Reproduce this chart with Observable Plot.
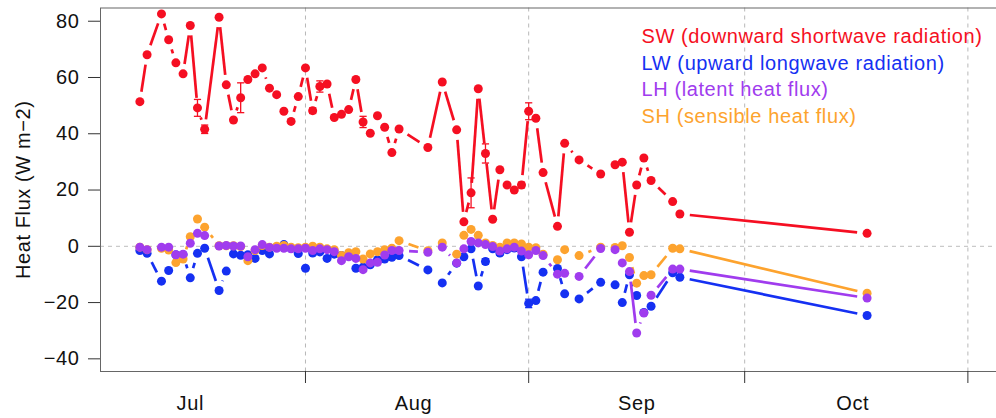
<!DOCTYPE html>
<html>
<head>
<meta charset="utf-8">
<script src="https://cdn.jsdelivr.net/npm/d3@7"></script>
<script src="https://cdn.jsdelivr.net/npm/@observablehq/plot@0.6"></script>
<style>
  body { margin: 0; background: #fff; overflow: hidden; }
  #chart { width: 996px; height: 418px; overflow: hidden; }
  #chart svg { max-width: none !important; }
  #chart svg text { letter-spacing: 0.6px; }
</style>
</head>
<body>
<div id="chart"></div>
<script>
// sampling days (same for all four fluxes)
const dates = [
  "2019-07-09","2019-07-10","2019-07-12","2019-07-13","2019-07-14","2019-07-15","2019-07-16","2019-07-17","2019-07-18","2019-07-20","2019-07-21",
  "2019-07-22","2019-07-23","2019-07-24","2019-07-25","2019-07-26","2019-07-27","2019-07-28","2019-07-29","2019-07-30","2019-07-31",
  "2019-08-01","2019-08-02","2019-08-03","2019-08-04","2019-08-05","2019-08-06","2019-08-07","2019-08-08","2019-08-09","2019-08-10",
  "2019-08-11","2019-08-12","2019-08-13","2019-08-14","2019-08-18","2019-08-20","2019-08-22","2019-08-23","2019-08-24","2019-08-25",
  "2019-08-26","2019-08-27","2019-08-28","2019-08-29","2019-08-30","2019-08-31",
  "2019-09-01","2019-09-02","2019-09-03","2019-09-05","2019-09-06","2019-09-08","2019-09-11","2019-09-13","2019-09-14","2019-09-15",
  "2019-09-16","2019-09-17","2019-09-18","2019-09-21","2019-09-22","2019-10-18"
];

const sw = [
  51.4, 68.1, 82.6, 73.4, 65.2, 61.3, 78.5, 49.2, 41.6, 81.4, 57.4, 44.9, 52.8, 59.3, 61.3, 63.4, 56.2, 53.9, 48.0, 44.4, 53.2,
  63.4, 48.2, 56.8, 57.7, 45.8, 46.9, 48.6, 59.3, 44.2, 40.2, 46.4, 42.3, 33.3, 41.7, 35.1, 58.4, 41.4, 8.7, 19.0, 56.0, 33.0, 9.6, 27.2, 21.8, 20.0, 21.8,
  48.0, 45.5, 26.2, 7.1, 36.6, 30.7, 25.7, 29.0, 29.9, 5.0, 21.8, 31.4, 23.4, 15.9, 11.5, 4.6
];
const lw = [
  -1.5, -2.5, -12.4, -8.6, -3.0, -3.0, -11.2, -2.5, -0.7, -15.7, -8.8, -2.7, -3.2, -3.0, -4.3, -1.5, -2.7, -0.3, 0.6, -0.8, -2.6,
  -7.8, -2.4, -2.0, -4.3, -2.8, -3.3, -3.3, -7.8, -7.4, -6.6, -4.8, -4.5, -3.9, -3.3, -8.4, -13.0, -6.0, -3.7, -0.9, -14.1, -5.4, -0.9, -2.4, -1.2, -0.6, -3.7,
  -20.3, -19.3, -9.2, -7.9, -16.9, -18.7, -12.8, -13.7, -20.0, -10.1, -17.5, -23.5, -21.3, -9.4, -11.0, -24.6
];
const sh = [
  -0.3, -1.2, -0.7, -1.3, -5.8, -4.5, 3.4, 9.7, 6.8, 0.2, 0.2, 0.2, -0.1, -5.1, -1.5, 0.3, -0.3, 0.0, 0.3, -0.3, -0.5,
  -0.3, 0.0, -0.3, -0.9, -1.2, -3.3, -2.3, -1.9, -4.5, -2.7, -1.9, -1.2, -0.7, 2.0, -1.6, 1.2, -2.8, 3.9, 6.0, 3.9, 1.2, 0.3, -0.3, 1.2, 1.2, 0.8,
  -0.3, -0.5, -2.8, -4.8, -1.2, -3.3, -0.3, -0.4, 0.2, -4.0, -13.1, -10.4, -10.1, -0.7, -0.9, -16.7
];
const lh = [
  -0.3, -1.2, -0.3, -0.3, -3.0, -2.8, 1.1, 4.6, 3.8, 0.1, 0.3, 0.1, 0.1, -3.7, -1.2, 0.6, -0.4, -0.7, -0.7, -0.9, -0.9,
  -0.7, -1.5, -0.9, -1.2, -1.9, -5.1, -3.7, -4.3, -8.3, -5.9, -5.7, -3.1, -1.5, -1.5, -2.1, -0.3, -5.9, -0.9, 1.7, 1.2, 0.6, -0.1, -1.7, -0.9, -0.3, -1.7,
  -3.0, -1.5, -3.3, -9.9, -9.6, -10.7, -0.8, -1.2, -5.9, -9.0, -30.8, -23.7, -17.4, -8.1, -8.1, -18.4
];

// error bars (half widths)
const swErrDates = ["2019-07-17","2019-07-18","2019-07-23","2019-08-02","2019-08-03","2019-08-09","2019-08-24","2019-08-26","2019-08-31","2019-09-01"];
const swErr = [3.0, 1.5, 5.3, 1.0, 2.0, 2.0, 5.3, 3.4, 1.0, 3.0];
const lwErrDates = ["2019-08-26","2019-09-01"];
const lwErr = [1.0, 1.5];

const labels = ["SW (downward shortwave radiation)", "LW (upward longwave radiation)", "LH (latent heat flux)", "SH (sensible heat flux)"];
const colors = ["#f50f22", "#1530f2", "#a03cee", "#fda32e"];

const yTicks = [-40, -20, 0, 20, 40, 60, 80];
const monthStarts = ["2019-08-01", "2019-09-01", "2019-10-01", "2019-11-01"].map(d => new Date(d));
const monthMids = ["2019-07-16", "2019-08-16", "2019-09-16", "2019-10-16"].map(d => new Date(d));

const days = dates.map(d => new Date(d));

// drawing order: SW, LW, SH, LH (latent on top)
const series = [
  {values: sw, color: colors[0], errDates: swErrDates, errs: swErr},
  {values: lw, color: colors[1], errDates: lwErrDates, errs: lwErr},
  {values: sh, color: colors[3], errDates: [], errs: []},
  {values: lh, color: colors[2], errDates: [], errs: []}
];

const capSymbol = {
  draw(context, size) {
    const r = Math.sqrt(size / Math.PI);
    context.moveTo(-r, 0);
    context.lineTo(r, 0);
  }
};

const marks = [
  Plot.gridX(monthStarts, {stroke: "#b8b8b8", strokeOpacity: 1, strokeDasharray: "4,4"}),
  Plot.ruleY([0], {stroke: "#bdbdbd", strokeDasharray: "4,4"})
];

for (const s of series) {
  const pts = days.map((d, i) => ({date: d, v: s.values[i]}));
  const segs = d3.pairs(pts).map(([a, b]) => ({x1: a.date, y1: a.v, x2: b.date, y2: b.v}));
  const errs = s.errDates.map((d, i) => {
    const k = dates.indexOf(d);
    return {date: days[k], lo: s.values[k] - s.errs[i], hi: s.values[k] + s.errs[i]};
  });
  // type "b": segments that stop short of the points
  marks.push(Plot.arrow(segs, {
    x1: "x1", y1: "y1", x2: "x2", y2: "y2",
    bend: 0, headLength: 0, insetStart: 10, insetEnd: 10,
    stroke: s.color, strokeWidth: 2.7, strokeLinecap: "butt"
  }));
  if (errs.length) {
    marks.push(Plot.link(errs, {x1: "date", x2: "date", y1: "lo", y2: "hi", stroke: s.color, strokeWidth: 1.3}));
    marks.push(Plot.dot(errs, {x: "date", y: "lo", r: 3.6, symbol: capSymbol, stroke: s.color, strokeWidth: 1.3, fill: "none"}));
    marks.push(Plot.dot(errs, {x: "date", y: "hi", r: 3.6, symbol: capSymbol, stroke: s.color, strokeWidth: 1.3, fill: "none"}));
  }
  marks.push(Plot.dot(pts, {x: "date", y: "v", r: 4.5, fill: s.color, stroke: "none"}));
}

marks.push(
  Plot.frame({stroke: "#666"}),
  Plot.axisY({ticks: yTicks, tickSize: 12, tickPadding: 9, label: null, stroke: "#333", fill: "#111"}),
  Plot.axisX({ticks: monthStarts, tickSize: 12, tickFormat: () => "", label: null, stroke: "#333"}),
  Plot.axisX({ticks: monthMids, tickSize: 0, tickPadding: 24, tickFormat: "%b", label: null, fill: "#111"}),
  Plot.text(["Heat Flux (W m\u22122)"], {frameAnchor: "left", dx: -77, rotate: -90, textAnchor: "middle", lineAnchor: "middle", fill: "#111"})
);

labels.forEach((t, i) => {
  marks.push(Plot.text([t], {
    frameAnchor: "top-left", dx: 541, dy: 35.2 + 26.6 * i,
    textAnchor: "start", lineAnchor: "bottom", fill: colors[i]
  }));
});

const chart = Plot.plot({
  width: 1010,
  height: 418,
  marginLeft: 100,
  marginRight: 0,
  marginTop: 7.5,
  marginBottom: 47,
  style: {fontFamily: "'Liberation Sans', Arial, sans-serif", fontSize: "20px", background: "#fff", overflow: "visible", maxWidth: "none"},
  x: {type: "utc", domain: [new Date("2019-07-03T12:45Z"), new Date("2019-11-06T22:05Z")]},
  y: {domain: [-44.5, 84.7]},
  marks
});

document.getElementById("chart").append(chart);
</script>
</body>
</html>
